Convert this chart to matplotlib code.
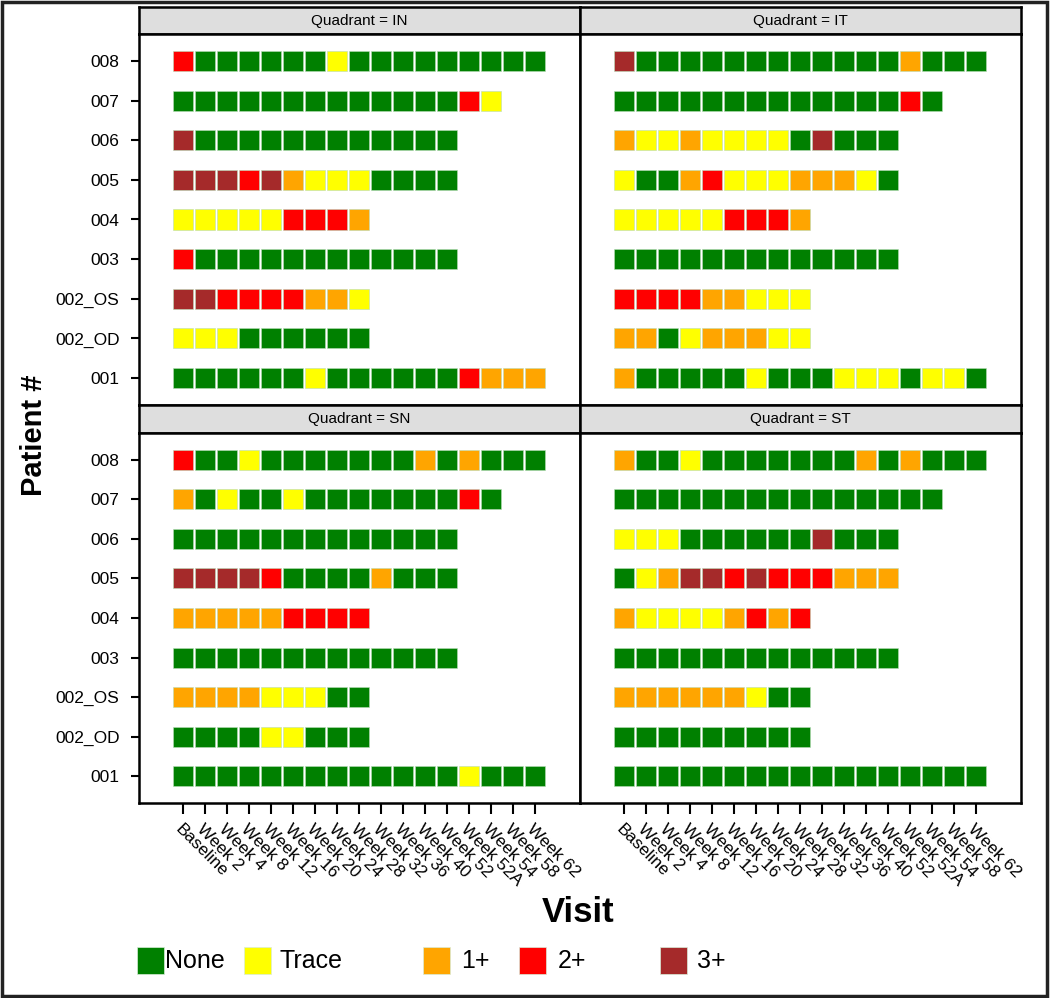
import matplotlib
matplotlib.use("Agg")
import matplotlib.pyplot as plt
from matplotlib.patches import Rectangle

plt.rcParams['font.family'] = ['Liberation Sans', 'DejaVu Sans']

patients = ["001", "002_OD", "002_OS", "003", "004", "005", "006", "007", "008"]
visits = ["Baseline", "Week 2", "Week 4", "Week 8", "Week 12", "Week 16", "Week 20",
          "Week 24", "Week 28", "Week 32", "Week 36", "Week 40", "Week 52",
          "Week 52A", "Week 54", "Week 58", "Week 62"]
grades = ["None", "Trace", "1+", "2+", "3+"]
grade_colors = ["#008000", "#ffff00", "#ffa500", "#ff0000", "#a52a2a"]

# 0=None 1=Trace 2=1+ 3=2+ 4=3+, rows in patient order (001 ... 008)
quad_IN = [
    [0, 0, 0, 0, 0, 0, 1, 0, 0, 0, 0, 0, 0, 3, 2, 2, 2],
    [1, 1, 1, 0, 0, 0, 0, 0, 0],
    [4, 4, 3, 3, 3, 3, 2, 2, 1],
    [3, 0, 0, 0, 0, 0, 0, 0, 0, 0, 0, 0, 0],
    [1, 1, 1, 1, 1, 3, 3, 3, 2],
    [4, 4, 4, 3, 4, 2, 1, 1, 1, 0, 0, 0, 0],
    [4, 0, 0, 0, 0, 0, 0, 0, 0, 0, 0, 0, 0],
    [0, 0, 0, 0, 0, 0, 0, 0, 0, 0, 0, 0, 0, 3, 1],
    [3, 0, 0, 0, 0, 0, 0, 1, 0, 0, 0, 0, 0, 0, 0, 0, 0],
]
quad_IT = [
    [2, 0, 0, 0, 0, 0, 1, 0, 0, 0, 1, 1, 1, 0, 1, 1, 0],
    [2, 2, 0, 1, 2, 2, 2, 1, 1],
    [3, 3, 3, 3, 2, 2, 1, 1, 1],
    [0, 0, 0, 0, 0, 0, 0, 0, 0, 0, 0, 0, 0],
    [1, 1, 1, 1, 1, 3, 3, 3, 2],
    [1, 0, 0, 2, 3, 1, 1, 1, 2, 2, 2, 1, 0],
    [2, 1, 1, 2, 1, 1, 1, 1, 0, 4, 0, 0, 0],
    [0, 0, 0, 0, 0, 0, 0, 0, 0, 0, 0, 0, 0, 3, 0],
    [4, 0, 0, 0, 0, 0, 0, 0, 0, 0, 0, 0, 0, 2, 0, 0, 0],
]
quad_SN = [
    [0, 0, 0, 0, 0, 0, 0, 0, 0, 0, 0, 0, 0, 1, 0, 0, 0],
    [0, 0, 0, 0, 1, 1, 0, 0, 0],
    [2, 2, 2, 2, 1, 1, 1, 0, 0],
    [0, 0, 0, 0, 0, 0, 0, 0, 0, 0, 0, 0, 0],
    [2, 2, 2, 2, 2, 3, 3, 3, 3],
    [4, 4, 4, 4, 3, 0, 0, 0, 0, 2, 0, 0, 0],
    [0, 0, 0, 0, 0, 0, 0, 0, 0, 0, 0, 0, 0],
    [2, 0, 1, 0, 0, 1, 0, 0, 0, 0, 0, 0, 0, 3, 0],
    [3, 0, 0, 1, 0, 0, 0, 0, 0, 0, 0, 2, 0, 2, 0, 0, 0],
]
quad_ST = [
    [0, 0, 0, 0, 0, 0, 0, 0, 0, 0, 0, 0, 0, 0, 0, 0, 0],
    [0, 0, 0, 0, 0, 0, 0, 0, 0],
    [2, 2, 2, 2, 2, 2, 1, 0, 0],
    [0, 0, 0, 0, 0, 0, 0, 0, 0, 0, 0, 0, 0],
    [2, 1, 1, 1, 1, 2, 3, 2, 3],
    [0, 1, 2, 4, 4, 3, 4, 3, 3, 3, 2, 2, 2],
    [1, 1, 1, 0, 0, 0, 0, 0, 0, 4, 0, 0, 0],
    [0, 0, 0, 0, 0, 0, 0, 0, 0, 0, 0, 0, 0, 0, 0],
    [2, 0, 0, 1, 0, 0, 0, 0, 0, 0, 0, 2, 0, 2, 0, 0, 0],
]

W, H = 1050, 998
fig = plt.figure(figsize=(W / 100, H / 100), dpi=100)


def px_axes(x0, y0, x1, y1):
    return fig.add_axes([x0 / W, 1 - y1 / H, (x1 - x0) / W, (y1 - y0) / H])


panels = [
    ("IN", quad_IN, 139, 7, 580, 34, 405, False, True),
    ("IT", quad_IT, 580, 7, 1021, 34, 405, False, False),
    ("SN", quad_SN, 139, 405, 580, 433, 803, True, True),
    ("ST", quad_ST, 580, 405, 1021, 433, 803, True, False),
]

for name, data, x0, ys, x1, yp, yb, show_x, show_y in panels:
    strip = px_axes(x0, ys, x1, yp)
    strip.set_facecolor("#dedede")
    strip.set_xticks([])
    strip.set_yticks([])
    for s in strip.spines.values():
        s.set_linewidth(1.8)
    strip.text(0.5, 0.5, "Quadrant = " + name, ha="center", va="center",
               fontsize=11, transform=strip.transAxes)

    ax = px_axes(x0, yp, x1, yb)
    for i, row in enumerate(data):
        ax.bar(range(len(row)), 0.505, bottom=i - 0.2525, width=0.91,
               color=[grade_colors[v] for v in row],
               edgecolor="#b8dcb8", linewidth=0.4)
    ax.set_xlim(-2, 18.05)
    ax.set_ylim(-0.68, 8.68)
    for s in ax.spines.values():
        s.set_linewidth(1.8)

    if show_y:
        ax.set_yticks(range(len(patients)))
        ax.set_yticklabels(patients, fontsize=12.5)
        ax.tick_params(axis="y", length=6, width=1.5, pad=8)
    else:
        ax.set_yticks([])
    if show_x:
        ax.set_xticks(range(len(visits)))
        ax.set_xticklabels(visits, fontsize=12.5, rotation=-45, ha="left",
                           va="top", rotation_mode="anchor")
        ax.tick_params(axis="x", length=8, width=1.5, pad=5)
    else:
        ax.set_xticks([])

fig.text(34 / W, 1 - 435 / H, "Patient #", rotation=90, fontsize=21,
         fontweight="bold", ha="center", va="center")
fig.text(578 / W, 1 - 913 / H, "Visit", fontsize=25, fontweight="bold",
         ha="center", va="center")

# legend
leg_sq = [137, 244, 423, 519, 660]
leg_tx = [165, 280, 461, 558, 697]
for g, c, sx, tx in zip(grades, grade_colors, leg_sq, leg_tx):
    fig.add_artist(Rectangle((sx / W, 1 - 974 / H), 27 / W, 27 / H,
                             transform=fig.transFigure, facecolor=c,
                             edgecolor="#d8ecd8", linewidth=0.5))
    fig.text(tx / W, 1 - 961 / H, g, fontsize=18, ha="left", va="center")

fig.add_artist(Rectangle((2 / W, 2 / H), (W - 5) / W, (H - 4) / H,
                         transform=fig.transFigure, fill=False,
                         edgecolor="#222222", linewidth=2.5))

fig.savefig("out.png", dpi=100)
